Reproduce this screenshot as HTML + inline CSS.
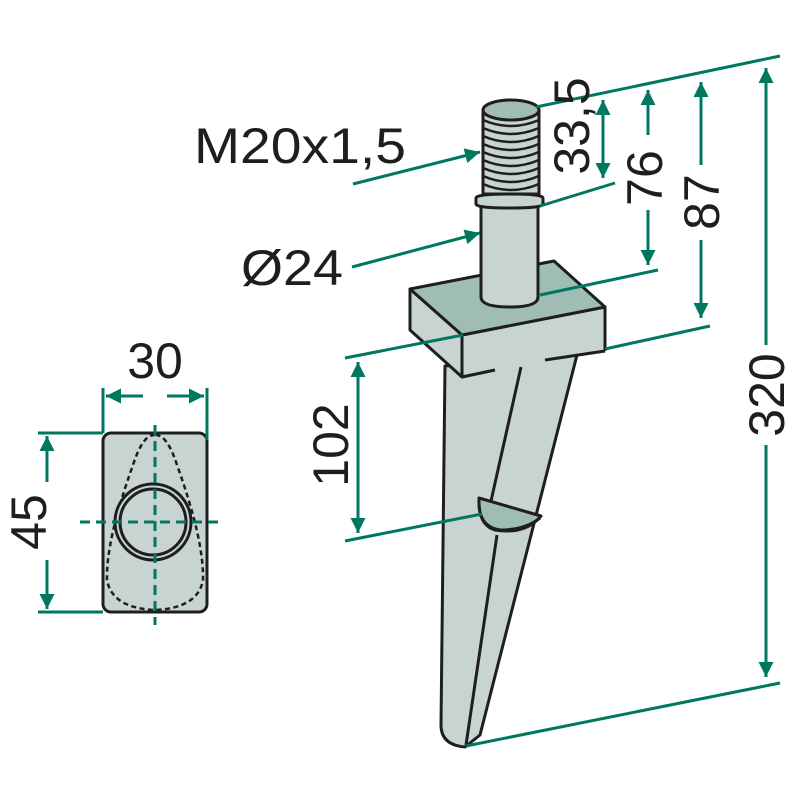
<!DOCTYPE html>
<html><head><style>html,body{margin:0;padding:0;background:#fff}svg{display:block}</style></head>
<body>
<svg width="800" height="800" viewBox="0 0 800 800" xmlns="http://www.w3.org/2000/svg">
<defs>
<marker id="a" viewBox="0 0 10 10" refX="10" refY="5" markerWidth="6" markerHeight="5" orient="auto-start-reverse" markerUnits="strokeWidth"><path d="M0,0 L10,5 L0,10 z" fill="#00775f"/></marker>
</defs>
<g stroke="#1e1e1e" stroke-width="3" stroke-linejoin="round" fill="#c8d4d1">
<!-- blade -->
<path d="M445,366 L441,725 Q441,745 465,747 L480,735 L577,355 Z"/>
<path d="M521,367 L489,510 M497,535 L466,745" fill="none"/>
<path d="M479,498 L541,516 Q525,535 495,530 Q478,525 479,498 Z" fill="#9fbdb4"/>
<path d="M479,505 Q480,527 500,530 Q525,530 540,518" fill="none"/>
<!-- block -->
<path d="M410,289 L410,330 L462,377 L462,335 Z"/>
<path d="M462,335 L605,307 L605,351 L462,377 Z" stroke="none"/>
<path d="M462,377 L462,335 L605,307 L605,351" fill="none"/>
<path d="M410,289 L554,261 L605,307 L462,335 Z" fill="#9fbdb4"/>
<path d="M462,377 L495,370 M545,360 L605,351" fill="none"/>
<!-- pin -->
<path d="M481,205 L481,297 Q481,307 510,307 Q538,307 538,297 L538,205 Z"/>
<path d="M476,198 Q476,194 510,194 Q543,194 543,198 L543,204 Q543,208 510,208 Q476,208 476,204 Z"/>
<path d="M483,110 L483,194 L539,194 L539,110 Z"/>
<g fill="none" stroke-width="2.5">
<path d="M483,120 Q511,132 539,120"/><path d="M483,128 Q511,140 539,128"/><path d="M483,136 Q511,148 539,136"/>
<path d="M483,144 Q511,156 539,144"/><path d="M483,152 Q511,164 539,152"/><path d="M483,160 Q511,172 539,160"/>
<path d="M483,168 Q511,180 539,168"/><path d="M483,176 Q511,188 539,176"/><path d="M483,184 Q511,196 539,184"/>
</g>
<ellipse cx="511" cy="110" rx="28" ry="10" fill="#9fbdb4"/>
<!-- small view -->
<rect x="103" y="433" width="104" height="179" rx="8" ry="8"/>
<path d="M155,435 Q143,434 133,465 Q106,540 107,580 Q112,608 155,610 Q198,608 203,580 Q204,540 177,465 Q167,434 155,435 Z" fill="none" stroke-dasharray="5,3.5" stroke-width="2.5"/>
<circle cx="153" cy="522" r="38"/>
<circle cx="153" cy="522" r="33"/>
</g>
<g stroke="#00775f" stroke-width="3" fill="none">
<path d="M155,425 L155,625 M80,522 L218,522" stroke-dasharray="10,6"/>
<path d="M103,388 L103,433 M207,388 L207,440"/>
<path d="M143,396 L106,396" marker-end="url(#a)"/>
<path d="M167,396 L204,396" marker-end="url(#a)"/>
<path d="M38,433 L103,433 M38,612 L103,612"/>
<path d="M47,482 L47,436" marker-end="url(#a)"/>
<path d="M47,560 L47,609" marker-end="url(#a)"/>
<path d="M353,184 L480,152" marker-end="url(#a)"/>
<path d="M352,267 L480,233" marker-end="url(#a)"/>
<path d="M536,107 L780,56"/>
<path d="M540,206 L615,183"/>
<path d="M540,295 L658,270"/>
<path d="M345,358 L463,335 M605,349 L710,326"/>
<path d="M345,541 L482,514"/>
<path d="M466,746 L780,683"/>
<path d="M603,100 L603,178" marker-start="url(#a)" marker-end="url(#a)"/>
<path d="M648,135 L648,90" marker-end="url(#a)"/>
<path d="M648,210 L648,265" marker-end="url(#a)"/>
<path d="M701,165 L701,82" marker-end="url(#a)"/>
<path d="M701,240 L701,318" marker-end="url(#a)"/>
<path d="M766,345 L766,68" marker-end="url(#a)"/>
<path d="M766,445 L766,677" marker-end="url(#a)"/>
<path d="M358,362 L358,533" marker-start="url(#a)" marker-end="url(#a)"/>
</g>
<g font-family="Liberation Sans, sans-serif" font-size="50" fill="#1e1e1e">
<text x="194" y="163" textLength="212" lengthAdjust="spacingAndGlyphs">M20x1,5</text>
<text x="241" y="285" textLength="102" lengthAdjust="spacingAndGlyphs">Ø24</text>
<text x="155" y="378" text-anchor="middle">30</text>
<text transform="translate(47,522) rotate(-90)" text-anchor="middle" dy="-1">45</text>
<text transform="translate(348,445) rotate(-90)" text-anchor="middle">102</text>
<text transform="translate(589,126) rotate(-90)" text-anchor="middle">33,5</text>
<text transform="translate(662,178) rotate(-90)" text-anchor="middle">76</text>
<text transform="translate(719,202) rotate(-90)" text-anchor="middle">87</text>
<text transform="translate(784,395) rotate(-90)" text-anchor="middle">320</text>
</g>
</svg>
</body></html>
